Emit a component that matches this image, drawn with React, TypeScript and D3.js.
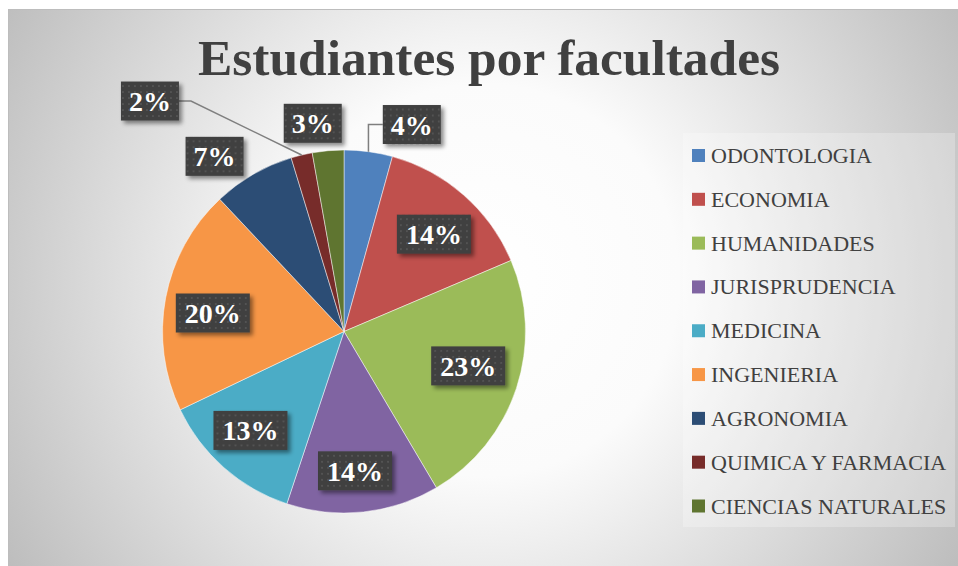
import React from 'react';
import * as d3 from 'd3';

// data
const categories = [
	'ODONTOLOGIA',
	'ECONOMIA',
	'HUMANIDADES',
	'JURISPRUDENCIA',
	'MEDICINA',
	'INGENIERIA',
	'AGRONOMIA',
	'QUIMICA Y FARMACIA',
	'CIENCIAS NATURALES',
];
const values = [4.3, 14.3, 22.9, 13.6, 12.8, 20.1, 7.3, 1.9, 2.8];
const colors = ['#4F81BD', '#C0504D', '#9BBB59', '#8064A2', '#4BACC6', '#F79646', '#2C4D75', '#772C2A', '#5F7530'];
const title = 'Estudiantes por facultades';

// label placement: radius factor (of pie radius) and angle nudge in degrees
const labelRadius = [1.2, 0.73, 0.71, 0.77, 0.75, 0.73, 1.2, 1.66, 1.16];
const labelNudge = [10.4, 1.5, -2.7, 1.6, 2.0, -2.6, -6.4, -26.6, -3.5];
const leaderKind: (string | null)[] = ['down', null, null, null, null, null, null, 'diag', null];

const W = 958;
const H = 566;
const cx = 344;
const cy = 331.5;
const R = 181.5;
const boxH = 39;
const serif = '"Liberation Serif", "Times New Roman", serif';

export default function App() {
	const pie = d3.pie<number>().sort(null).value(d => d);
	const arcs = pie(values);
	const arc = d3.arc<d3.PieArcDatum<number>>().innerRadius(0).outerRadius(R);
	const total = d3.sum(values);

	const polar = (angle: number, r: number) => [Math.sin(angle) * r, -Math.cos(angle) * r];
	const pct = (v: number) => `${Math.round((v / total) * 100)}%`;
	const boxW = (label: string) => (label.length > 2 ? 74 : 58);

	const legendY = d3.scaleLinear().domain([0, categories.length - 1]).range([155.5, 506]);

	return (
		<svg width={W} height={H} style={{ position: 'absolute', left: 0, top: 0 }}>
			<defs>
				<radialGradient id="bg" gradientUnits="userSpaceOnUse" cx={483} cy={280} r={560}>
					<stop offset="0" stopColor="#ffffff" />
					<stop offset="0.35" stopColor="#fbfbfb" />
					<stop offset="1" stopColor="#bcbcbc" />
				</radialGradient>
				<pattern id="dots" width={6} height={6} patternUnits="userSpaceOnUse">
					<rect width={6} height={6} fill="#3f3f3f" />
					<rect x={2} y={2} width={2} height={2} fill="#525252" />
				</pattern>
				<filter id="shadow" x="-20%" y="-20%" width="150%" height="160%">
					<feDropShadow dx={3} dy={3} stdDeviation={2.2} floodColor="#000" floodOpacity={0.45} />
				</filter>
			</defs>
			<rect width={W} height={H} fill="#ffffff" />
			<rect x={8.5} y={9.5} width={W} height={H} fill="url(#bg)" stroke="#bdbdbd" />

			<text
				x={489}
				y={75}
				textAnchor="middle"
				fontFamily={serif}
				fontWeight="bold"
				fontSize={51}
				fill="#404040"
				textLength={582}
				lengthAdjust="spacingAndGlyphs"
			>
				{title}
			</text>

			<g transform={`translate(${cx},${cy})`}>
				{arcs.map((a, i) => (
					<path key={i} d={arc(a) || ''} fill={colors[i]} stroke="#ffffff" strokeOpacity={0.6} strokeWidth={0.8} />
				))}

				{/* leader lines for the labels set outside the pie */}
				{arcs.map((a, i) => {
					if (!leaderKind[i]) return null;
					const mid = (a.startAngle + a.endAngle) / 2;
					const [ex, ey] = polar(mid, R);
					const la = mid + (labelNudge[i] * Math.PI) / 180;
					const [lx, ly] = polar(la, R * labelRadius[i]);
					const bw = boxW(pct(a.data));
					let pts: number[][];
					if (leaderKind[i] === 'down') {
						const ax = lx - bw / 2;
						pts = [[ax, ly], [ex, ly], [ex, ey]];
					} else {
						const ax = lx + bw / 2;
						pts = [[ax, ly], [ax + 12, ly], [ex, ey]];
					}
					return (
						<path key={`l${i}`} d={d3.line()(pts as [number, number][]) || ''} fill="none" stroke="#7f7f7f" strokeWidth={1.5} />
					);
				})}

				{arcs.map((a, i) => {
					const mid = (a.startAngle + a.endAngle) / 2;
					const la = mid + (labelNudge[i] * Math.PI) / 180;
					const [lx, ly] = polar(la, R * labelRadius[i]);
					const label = pct(a.data);
					const bw = boxW(label);
					return (
						<g key={`t${i}`} transform={`translate(${lx},${ly})`}>
							<rect x={-bw / 2} y={-boxH / 2} width={bw} height={boxH} fill="url(#dots)" filter="url(#shadow)" />
							<text y={10} textAnchor="middle" fontFamily={serif} fontWeight="bold" fontSize={28} fill="#ffffff">
								{label}
							</text>
						</g>
					);
				})}
			</g>

			<rect x={683} y={133} width={272} height={394} fill="#ffffff" fillOpacity={0.25} />
			{categories.map((c, i) => (
				<g key={c} transform={`translate(692,${legendY(i)})`}>
					<rect x={0} y={-6.5} width={13} height={13} fill={colors[i]} />
					<text x={19} y={7.5} fontFamily={serif} fontSize={22} fill="#404040" textLength={c.length > 14 ? undefined : undefined}>
						{c}
					</text>
				</g>
			))}
		</svg>
	);
}
